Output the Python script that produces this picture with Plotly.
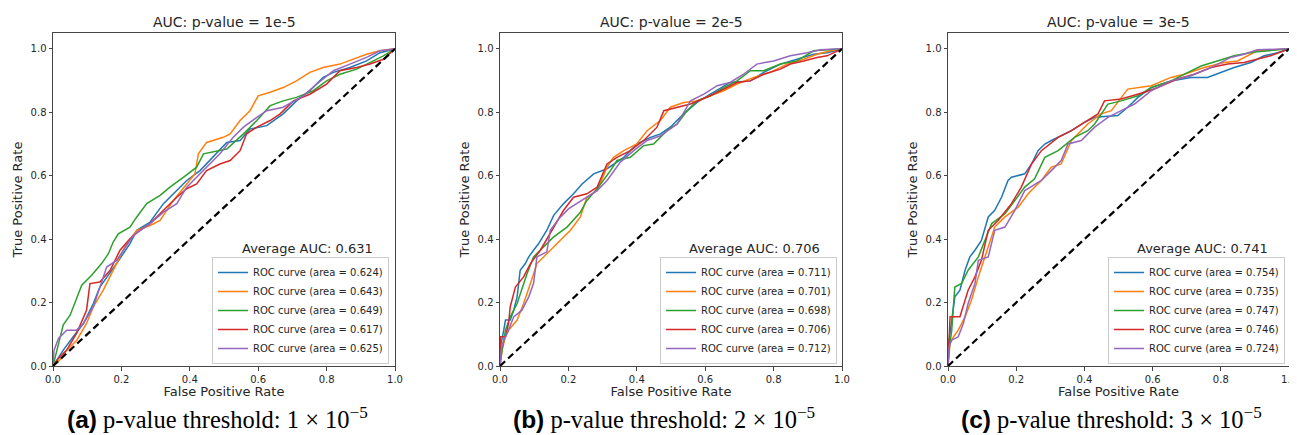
import plotly.graph_objects as go

# ---------------- data ----------------
tick_vals = [0.0, 0.2, 0.4, 0.6, 0.8, 1.0]
tick_text = ["0.0", "0.2", "0.4", "0.6", "0.8", "1.0"]
panel_titles = ["AUC: p-value = 1e-5", "AUC: p-value = 2e-5", "AUC: p-value = 3e-5"]
avg_auc = ["0.631", "0.706", "0.741"]
captions = [("(a)", "1"), ("(b)", "2"), ("(c)", "3")]
areas_a = ["0.624", "0.643", "0.649", "0.617", "0.625"]
areas_b = ["0.711", "0.701", "0.698", "0.706", "0.712"]
areas_c = ["0.754", "0.735", "0.747", "0.746", "0.724"]

# panel (a)
fpr_a1 = [0, 0.011, 0.03, 0.059, 0.089, 0.118, 0.137, 0.186, 0.225, 0.245, 0.284, 0.323, 0.362, 0.391, 0.43, 0.459, 0.508, 0.547, 0.576, 0.625, 0.673, 0.712, 0.751, 0.79, 0.82, 0.868, 0.917, 0.956, 1.0]
tpr_a1 = [0, 0.019, 0.05, 0.092, 0.134, 0.197, 0.249, 0.323, 0.386, 0.428, 0.454, 0.512, 0.553, 0.585, 0.616, 0.648, 0.705, 0.711, 0.747, 0.758, 0.795, 0.836, 0.868, 0.91, 0.926, 0.941, 0.962, 0.988, 1.0]
fpr_a2 = [0, 0.02, 0.04, 0.069, 0.098, 0.118, 0.147, 0.186, 0.215, 0.245, 0.284, 0.313, 0.352, 0.391, 0.415, 0.425, 0.449, 0.498, 0.518, 0.547, 0.576, 0.6, 0.635, 0.673, 0.712, 0.751, 0.79, 0.839, 0.878, 0.917, 0.956, 1.0]
tpr_a2 = [0, 0.019, 0.05, 0.08, 0.134, 0.187, 0.239, 0.323, 0.386, 0.428, 0.443, 0.459, 0.522, 0.574, 0.606, 0.669, 0.705, 0.721, 0.732, 0.774, 0.805, 0.852, 0.863, 0.878, 0.899, 0.926, 0.941, 0.952, 0.967, 0.983, 0.994, 1.0]
fpr_a3 = [0, 0.011, 0.03, 0.05, 0.084, 0.113, 0.142, 0.162, 0.176, 0.191, 0.225, 0.245, 0.274, 0.313, 0.342, 0.381, 0.42, 0.44, 0.479, 0.508, 0.557, 0.596, 0.635, 0.673, 0.712, 0.761, 0.8, 0.839, 0.888, 0.927, 0.966, 1.0]
tpr_a3 = [0, 0.05, 0.13, 0.16, 0.255, 0.286, 0.323, 0.354, 0.391, 0.417, 0.438, 0.47, 0.512, 0.538, 0.564, 0.595, 0.627, 0.669, 0.679, 0.684, 0.732, 0.774, 0.821, 0.836, 0.847, 0.868, 0.899, 0.92, 0.936, 0.957, 0.978, 1.0]
fpr_a4 = [0, 0.016, 0.04, 0.069, 0.098, 0.108, 0.137, 0.167, 0.196, 0.225, 0.254, 0.284, 0.323, 0.362, 0.391, 0.42, 0.449, 0.488, 0.518, 0.547, 0.566, 0.596, 0.635, 0.664, 0.703, 0.751, 0.8, 0.839, 0.888, 0.927, 0.966, 1.0]
tpr_a4 = [0, 0.024, 0.05, 0.103, 0.176, 0.26, 0.265, 0.302, 0.365, 0.401, 0.428, 0.449, 0.491, 0.532, 0.559, 0.574, 0.616, 0.637, 0.648, 0.679, 0.732, 0.753, 0.774, 0.795, 0.836, 0.857, 0.889, 0.931, 0.941, 0.952, 0.967, 1.0]
fpr_a5 = [0, 0.003, 0.016, 0.04, 0.069, 0.089, 0.118, 0.157, 0.186, 0.235, 0.284, 0.323, 0.362, 0.391, 0.42, 0.459, 0.488, 0.527, 0.557, 0.596, 0.625, 0.673, 0.732, 0.771, 0.82, 0.868, 0.917, 0.956, 1.0]
tpr_a5 = [0, 0.05, 0.087, 0.113, 0.113, 0.134, 0.187, 0.312, 0.333, 0.412, 0.449, 0.485, 0.512, 0.564, 0.595, 0.637, 0.669, 0.721, 0.753, 0.784, 0.805, 0.816, 0.852, 0.889, 0.931, 0.952, 0.973, 0.994, 1.0]

# panel (b)
fpr_b1 = [0, 0.003, 0.011, 0.016, 0.03, 0.04, 0.05, 0.059, 0.074, 0.084, 0.098, 0.113, 0.137, 0.157, 0.186, 0.215, 0.24, 0.274, 0.313, 0.332, 0.362, 0.4, 0.44, 0.469, 0.498, 0.537, 0.576, 0.615, 0.673, 0.732, 0.771, 0.82, 0.868, 0.917, 0.956, 1.0]
tpr_b1 = [0, 0.071, 0.113, 0.145, 0.145, 0.176, 0.218, 0.302, 0.323, 0.344, 0.365, 0.386, 0.428, 0.475, 0.512, 0.543, 0.574, 0.606, 0.622, 0.637, 0.658, 0.7, 0.721, 0.732, 0.753, 0.795, 0.831, 0.857, 0.894, 0.899, 0.926, 0.952, 0.967, 0.983, 0.988, 1.0]
fpr_b2 = [0, 0.006, 0.016, 0.025, 0.05, 0.069, 0.089, 0.108, 0.137, 0.176, 0.206, 0.235, 0.254, 0.284, 0.313, 0.332, 0.362, 0.4, 0.43, 0.469, 0.498, 0.537, 0.576, 0.615, 0.654, 0.693, 0.742, 0.79, 0.839, 0.888, 0.927, 0.966, 1.0]
tpr_b2 = [0, 0.05, 0.092, 0.113, 0.145, 0.197, 0.26, 0.323, 0.354, 0.396, 0.428, 0.47, 0.532, 0.553, 0.627, 0.658, 0.679, 0.7, 0.742, 0.774, 0.816, 0.831, 0.836, 0.852, 0.868, 0.889, 0.91, 0.926, 0.952, 0.967, 0.983, 0.994, 1.0]
fpr_b3 = [0, 0.006, 0.016, 0.03, 0.05, 0.079, 0.098, 0.128, 0.157, 0.196, 0.235, 0.254, 0.284, 0.323, 0.342, 0.381, 0.42, 0.449, 0.488, 0.518, 0.547, 0.576, 0.615, 0.654, 0.693, 0.732, 0.771, 0.82, 0.868, 0.917, 1.0]
tpr_b3 = [0, 0.05, 0.113, 0.155, 0.197, 0.291, 0.344, 0.375, 0.407, 0.438, 0.485, 0.522, 0.559, 0.616, 0.648, 0.658, 0.695, 0.7, 0.742, 0.763, 0.805, 0.836, 0.852, 0.878, 0.899, 0.931, 0.931, 0.952, 0.962, 0.994, 1.0]
fpr_b4 = [0, 0.001, 0.016, 0.025, 0.03, 0.045, 0.069, 0.089, 0.118, 0.147, 0.186, 0.215, 0.254, 0.284, 0.313, 0.342, 0.381, 0.42, 0.459, 0.479, 0.498, 0.557, 0.615, 0.654, 0.693, 0.732, 0.771, 0.82, 0.849, 0.888, 0.927, 0.956, 1.0]
tpr_b4 = [0, 0.092, 0.092, 0.134, 0.187, 0.249, 0.281, 0.323, 0.365, 0.417, 0.491, 0.532, 0.543, 0.564, 0.637, 0.658, 0.679, 0.711, 0.753, 0.805, 0.81, 0.826, 0.852, 0.873, 0.894, 0.899, 0.92, 0.936, 0.952, 0.962, 0.973, 0.978, 1.0]
fpr_b5 = [0, 0.003, 0.011, 0.025, 0.04, 0.064, 0.084, 0.098, 0.108, 0.137, 0.147, 0.172, 0.201, 0.245, 0.284, 0.313, 0.352, 0.391, 0.43, 0.469, 0.518, 0.557, 0.596, 0.635, 0.673, 0.712, 0.751, 0.8, 0.849, 0.898, 0.937, 1.0]
tpr_b5 = [0, 0.05, 0.082, 0.113, 0.155, 0.176, 0.218, 0.26, 0.344, 0.36, 0.428, 0.464, 0.496, 0.527, 0.553, 0.585, 0.643, 0.679, 0.711, 0.726, 0.763, 0.836, 0.857, 0.884, 0.894, 0.92, 0.952, 0.962, 0.978, 0.988, 0.997, 1.0]

# panel (c)
fpr_c1 = [0, 0.003, 0.011, 0.02, 0.035, 0.05, 0.064, 0.079, 0.098, 0.118, 0.137, 0.157, 0.176, 0.186, 0.225, 0.245, 0.264, 0.284, 0.303, 0.342, 0.362, 0.4, 0.43, 0.498, 0.527, 0.557, 0.596, 0.654, 0.712, 0.761, 0.8, 0.839, 0.888, 0.927, 0.966, 1.0]
tpr_c1 = [0, 0.082, 0.145, 0.218, 0.239, 0.302, 0.344, 0.365, 0.396, 0.47, 0.491, 0.532, 0.585, 0.595, 0.606, 0.637, 0.679, 0.7, 0.711, 0.732, 0.742, 0.768, 0.784, 0.79, 0.816, 0.847, 0.878, 0.899, 0.91, 0.91, 0.926, 0.941, 0.957, 0.978, 0.988, 1.0]
fpr_c2 = [0, 0.006, 0.016, 0.03, 0.05, 0.069, 0.089, 0.108, 0.137, 0.167, 0.206, 0.235, 0.274, 0.303, 0.332, 0.362, 0.381, 0.41, 0.449, 0.479, 0.527, 0.596, 0.654, 0.693, 0.751, 0.81, 0.849, 0.907, 1.0]
tpr_c2 = [0, 0.071, 0.092, 0.113, 0.155, 0.208, 0.281, 0.344, 0.438, 0.47, 0.501, 0.543, 0.585, 0.627, 0.637, 0.711, 0.732, 0.763, 0.795, 0.805, 0.873, 0.884, 0.91, 0.92, 0.941, 0.957, 0.962, 0.994, 1.0]
fpr_c3 = [0, 0.003, 0.011, 0.02, 0.04, 0.059, 0.089, 0.113, 0.128, 0.167, 0.196, 0.225, 0.254, 0.284, 0.323, 0.371, 0.41, 0.43, 0.469, 0.508, 0.557, 0.596, 0.654, 0.693, 0.742, 0.79, 0.839, 0.898, 1.0]
tpr_c3 = [0, 0.05, 0.113, 0.249, 0.26, 0.302, 0.344, 0.407, 0.449, 0.48, 0.522, 0.564, 0.59, 0.658, 0.679, 0.721, 0.742, 0.763, 0.826, 0.836, 0.852, 0.878, 0.899, 0.92, 0.946, 0.962, 0.978, 0.99, 1.0]
fpr_c4 = [0, 0.003, 0.006, 0.035, 0.045, 0.059, 0.079, 0.098, 0.118, 0.147, 0.186, 0.215, 0.245, 0.274, 0.323, 0.362, 0.4, 0.44, 0.459, 0.508, 0.576, 0.615, 0.673, 0.722, 0.771, 0.82, 0.868, 0.907, 0.946, 1.0]
tpr_c4 = [0, 0.071, 0.155, 0.155, 0.187, 0.239, 0.281, 0.333, 0.428, 0.459, 0.512, 0.564, 0.637, 0.679, 0.721, 0.742, 0.768, 0.795, 0.836, 0.842, 0.863, 0.878, 0.905, 0.92, 0.941, 0.952, 0.957, 0.967, 0.978, 1.0]
fpr_c5 = [0, 0.003, 0.011, 0.03, 0.045, 0.059, 0.079, 0.089, 0.118, 0.137, 0.167, 0.196, 0.225, 0.274, 0.303, 0.332, 0.352, 0.391, 0.43, 0.469, 0.508, 0.547, 0.596, 0.654, 0.712, 0.771, 0.829, 0.868, 0.907, 1.0]
tpr_c5 = [0, 0.061, 0.082, 0.092, 0.134, 0.197, 0.26, 0.333, 0.344, 0.428, 0.438, 0.491, 0.553, 0.585, 0.616, 0.648, 0.7, 0.711, 0.753, 0.784, 0.805, 0.826, 0.868, 0.899, 0.915, 0.941, 0.973, 0.983, 0.997, 1.0]

diag = [0.0, 1.0]

panels = [
    ([fpr_a1, fpr_a2, fpr_a3, fpr_a4, fpr_a5], [tpr_a1, tpr_a2, tpr_a3, tpr_a4, tpr_a5], areas_a),
    ([fpr_b1, fpr_b2, fpr_b3, fpr_b4, fpr_b5], [tpr_b1, tpr_b2, tpr_b3, tpr_b4, tpr_b5], areas_b),
    ([fpr_c1, fpr_c2, fpr_c3, fpr_c4, fpr_c5], [tpr_c1, tpr_c2, tpr_c3, tpr_c4, tpr_c5], areas_c),
]

# ---------------- styling ----------------
# The page body has an 8px default margin, so the figure is sized to fill
# the rest of the 1297x435 window and all pixel positions are page-8.
OFF = 8
W, H = 1297 - OFF, 435 - OFF
colors = ["#1f77b4", "#ff7f0e", "#2ca02c", "#d62728", "#9467bd"]
x_doms = [(53, 395), (500, 842), (948, 1289)]
y_top, y_bot = 33, 366
legend_right = [389, 837, 1285]
legend_bottom = 364
SANS = "DejaVu Sans"
axis_col = "#444444"
text_col = "#262626"


def px(v):
    return (v - OFF) / W


def py(v):
    return 1 - (v - OFF) / H


fig = go.Figure()
layout = dict(
    template="none",
    width=W, height=H,
    margin=dict(l=0, r=0, t=0, b=0, pad=0),
    paper_bgcolor="white", plot_bgcolor="white",
    font=dict(family=SANS, color=text_col),
    showlegend=True,
    hovermode="closest",
)

annotations = []
for i, (fprs, tprs, areas) in enumerate(panels):
    sfx = "" if i == 0 else str(i + 1)
    xa, ya = "x" + sfx, "y" + sfx
    leg = "legend" + sfx
    for k in range(5):
        fig.add_trace(go.Scatter(
            x=fprs[k], y=tprs[k], mode="lines", xaxis=xa, yaxis=ya,
            line=dict(color=colors[k], width=1.5),
            name=f"ROC curve (area = {areas[k]})", legend=leg,
        ))
    fig.add_trace(go.Scatter(
        x=diag, y=diag, mode="lines", xaxis=xa, yaxis=ya,
        line=dict(color="black", width=2.2, dash="7px,4px"),
        showlegend=False, hoverinfo="skip",
    ))
    x0, x1 = x_doms[i]
    common = dict(
        automargin=False,
        showline=True, mirror=True, linecolor=axis_col, linewidth=1,
        ticks="outside", ticklen=3.5, tickwidth=1, tickcolor=axis_col,
        tickvals=tick_vals, ticktext=tick_text,
        tickfont=dict(size=10, family=SANS, color=text_col),
        showgrid=False, zeroline=False, fixedrange=True,
    )
    layout["xaxis" + sfx] = dict(
        common, domain=[px(x0), px(x1)], range=[0, 1.0], anchor=ya,
        title=dict(text="False Positive Rate", font=dict(size=13, family=SANS, color=text_col), standoff=2),
    )
    layout["yaxis" + sfx] = dict(
        common, domain=[py(y_bot), py(y_top)], range=[0, 1.05], anchor=xa,
        title=dict(text="True Positive Rate", font=dict(size=13, family=SANS, color=text_col), standoff=5),
    )
    layout[leg] = dict(
        x=px(legend_right[i]), y=py(legend_bottom), xanchor="right", yanchor="bottom",
        xref="paper", yref="paper",
        bgcolor="rgba(255,255,255,0.8)", bordercolor="#cccccc", borderwidth=1,
        font=dict(size=10, family=SANS, color=text_col),
        itemwidth=30, tracegroupgap=0,
    )
    # panel title
    annotations.append(dict(
        text=panel_titles[i], x=px((x0 + x1) / 2), y=py(22), xref="paper", yref="paper",
        xanchor="center", yanchor="middle", showarrow=False,
        font=dict(size=14, family=SANS, color=text_col),
    ))
    # average AUC text (kept just above the legend box)
    annotations.append(dict(
        text=f"Average AUC: {avg_auc[i]}", x=0.745, y=0.372, xref=xa, yref=ya,
        xanchor="center", yanchor="middle", showarrow=False,
        font=dict(size=13, family=SANS, color=text_col),
    ))
    # caption
    lab, num = captions[i]
    annotations.append(dict(
        text=(f'<span style="font-family:Liberation Sans;font-weight:bold">{lab}</span>'
              f" p-value threshold: {num} × 10<sup>−5</sup>"),
        x=px((x0 + x1) / 2 - 7), y=py(418), xref="paper", yref="paper",
        xanchor="center", yanchor="middle", showarrow=False,
        font=dict(size=24.5, family="Liberation Serif", color="black"),
    ))

layout["annotations"] = annotations
fig.update_layout(**layout)
fig.write_html("out.html")
